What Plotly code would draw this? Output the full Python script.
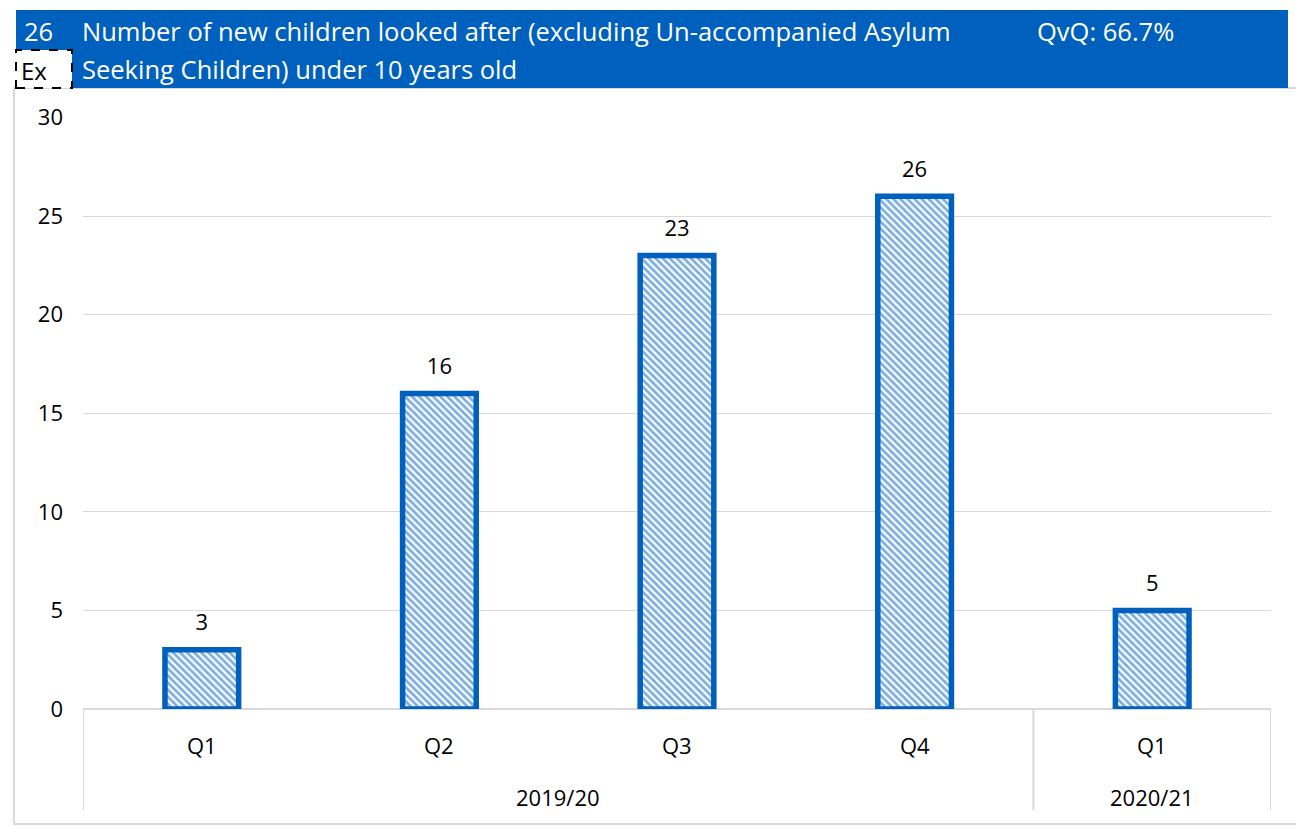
import plotly.graph_objects as go

years = ["2019/20", "2019/20", "2019/20", "2019/20", "2020/21"]
quarters = ["Q1", "Q2", "Q3", "Q4", "Q1"]
values = [3, 16, 23, 26, 5]
title_num = "26"
title_line1 = "Number of new children looked after (excluding Un-accompanied Asylum"
title_line2 = "Seeking Children) under 10 years old"
qvq_text = "QvQ: 66.7%"
ex_text = "Ex"

OFF = 8  # page body margin
W, H = 1304 - OFF, 826 - OFF
L, R, T, B = 83 - OFF, 1271 - OFF, 117 - OFF, 709 - OFF
BLUE = "#0060BE"
FONT = "Open Sans"
GRID = "#d9d9d9"

def px(x):
    return (x - OFF - L) / (R - L)

def py(y):
    return (B - (y - OFF)) / (B - T)

idx = list(range(len(values)))

fig = go.Figure()
fig.add_trace(go.Bar(
    x=idx, y=values,
    width=0.31,
    marker=dict(color="white", line=dict(color=BLUE, width=5.5),
                pattern=dict(shape="\\", fgcolor=BLUE, bgcolor="white", size=5, solidity=0.55)),
    hoverinfo="y",
))
fig.add_trace(go.Scatter(
    x=idx, y=values, mode="markers+text",
    marker=dict(size=21, color="rgba(0,0,0,0)"),
    text=[str(v) for v in values], textposition="top center",
    textfont=dict(size=22, color="black", family=FONT),
    cliponaxis=False, hoverinfo="skip",
))

shapes = []
# outer border
shapes.append(dict(type="rect", xref="paper", yref="paper", x0=px(14), x1=px(1300), y0=py(824), y1=py(88),
                   line=dict(color=GRID, width=2), fillcolor="rgba(0,0,0,0)", layer="below"))
# header band
shapes.append(dict(type="rect", xref="paper", yref="paper", x0=px(16), x1=px(1288), y0=py(88), y1=py(10),
                   line=dict(width=0), fillcolor=BLUE))
# Ex box
shapes.append(dict(type="rect", xref="paper", yref="paper", x0=px(16), x1=px(72), y0=py(88), y1=py(50),
                   line=dict(color="black", width=2, dash="dash"), fillcolor="white"))
# category group dividers
groups = []
for i, y in enumerate(years):
    if not groups or groups[-1][0] != y:
        groups.append([y, i, i])
    else:
        groups[-1][2] = i
div_x = [-0.5] + [g[2] + 0.5 for g in groups]
for dx in div_x:
    shapes.append(dict(type="line", xref="x", yref="paper", x0=dx, x1=dx, y0=0, y1=py(810),
                       line=dict(color=GRID, width=2)))

annotations = [
    dict(text=title_num, x=px(22), y=py(31), xref="paper", yref="paper", xanchor="left", yanchor="middle",
         showarrow=False, font=dict(size=25.5, color="white", family=FONT)),
    dict(text=title_line1, x=px(80), y=py(31), xref="paper", yref="paper", xanchor="left", yanchor="middle",
         showarrow=False, font=dict(size=25.5, color="white", family=FONT)),
    dict(text=title_line2, x=px(80), y=py(69), xref="paper", yref="paper", xanchor="left", yanchor="middle",
         showarrow=False, font=dict(size=25.5, color="white", family=FONT)),
    dict(text=qvq_text, x=px(1035), y=py(31), xref="paper", yref="paper", xanchor="left", yanchor="middle",
         showarrow=False, font=dict(size=25.5, color="white", family=FONT)),
    dict(text=ex_text, x=px(19), y=py(70), xref="paper", yref="paper", xanchor="left", yanchor="middle",
         showarrow=False, font=dict(size=24, color="black", family=FONT)),
]
for i, q in zip(idx, quarters):
    annotations.append(dict(text=q, x=i, y=0, xref="x", yref="paper", xanchor="center", yanchor="middle",
                            yshift=-36, showarrow=False, font=dict(size=22, color="black", family=FONT)))
for g in groups:
    annotations.append(dict(text=g[0], x=(g[1] + g[2]) / 2, y=0, xref="x", yref="paper", xanchor="center",
                            yanchor="middle", yshift=-88, showarrow=False,
                            font=dict(size=22, color="black", family=FONT)))

fig.update_layout(
    width=W, height=H,
    margin=dict(l=L, r=W - R, t=T, b=H - B),
    paper_bgcolor="white", plot_bgcolor="white",
    showlegend=False,
    shapes=shapes, annotations=annotations,
    font=dict(family=FONT, size=22, color="black"),
    xaxis=dict(range=[-0.5, len(values) - 0.5], tickvals=idx, showticklabels=False, showgrid=False,
               zeroline=False, showline=False, ticks=""),
    yaxis=dict(range=[0, 30.02], tickvals=[0, 5, 10, 15, 20, 25, 30], showgrid=True, gridcolor=GRID, gridwidth=1,
               zeroline=True, zerolinecolor=GRID, zerolinewidth=2, showline=False,
               tickfont=dict(size=22, color="black"), ticks="", ticklabelstandoff=19),
)
fig.write_html("out.html")
